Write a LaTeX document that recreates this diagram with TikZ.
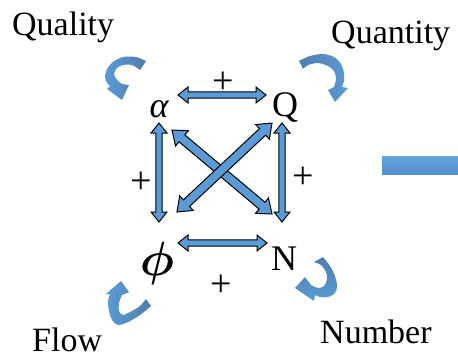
\documentclass[tikz,border=0pt]{standalone}
\usepackage{bm}
\usepackage{fontspec}
\setmainfont{Liberation Serif}
\usetikzlibrary{calc}
\definecolor{ablue}{HTML}{5B9BD5}
\definecolor{adark}{HTML}{4F7DAE}
\definecolor{rtop}{HTML}{62A2DC}
\definecolor{rbot}{HTML}{5590CC}
\tikzset{
  lbl/.style={font=\fontsize{34}{40}\selectfont, inner sep=0pt, anchor=base west},
  varnode/.style={font=\fontsize{36}{40}\selectfont, inner sep=0pt},
  plusnode/.style={font=\fontsize{38}{40}\selectfont, inner sep=0pt},
  barrow/.style={fill=ablue, draw=black, line width=1pt, line join=miter},
}
\newcommand\blockarrow[6][barrow]{%
  \path ($(#2)!#6!(#3)$) coordinate (ba1) ($(#3)!#6!(#2)$) coordinate (ba2);
  \filldraw[#1] (#2) -- ($(ba1)!#5!90:(#3)$) -- ($(ba1)!#4!90:(#3)$)
    -- ($(ba2)!#4!-90:(#2)$) -- ($(ba2)!#5!-90:(#2)$) -- (#3)
    -- ($(ba2)!#5!90:(#2)$) -- ($(ba2)!#4!90:(#2)$)
    -- ($(ba1)!#4!-90:(#3)$) -- ($(ba1)!#5!-90:(#3)$) -- cycle;}
\begin{document}
\begin{tikzpicture}[x=1pt,y=-1pt]
\useasboundingbox (0,0) rectangle (458,357);

% labels
\node[lbl] (quality) at (12,35) {Quality};
\node[lbl] (quantity) at (331,43) {Quantity};
\node[lbl, text depth=0pt] (flow) at (32,351) {Flow};
\node[lbl] (number) at (320,343) {Number};

% variables
\node[varnode, anchor=base] (alpha) at (159,117) {\itshape α};
\node[varnode, anchor=base] (Q) at (285,116) {Q};
\node[inner sep=0pt] (phi) at (157,263) {\scalebox{4.8}{$\bm{\phi}$}};
\node[varnode, anchor=base] (N) at (284,270) {N};

% arrow end points
\coordinate (t1) at (178,95);  \coordinate (t2) at (266,95);
\coordinate (b1) at (178,243); \coordinate (b2) at (267,243);
\coordinate (l1) at (159,123); \coordinate (l2) at (159,222);
\coordinate (r1) at (282,123); \coordinate (r2) at (282,222);
\coordinate (d1) at (172,130); \coordinate (d2) at (272,214);
\coordinate (e1) at (177,212); \coordinate (e2) at (272,123);

% diagonals
\blockarrow{d1}{d2}{4.5pt}{10pt}{13pt}
\blockarrow{e1}{e2}{4.5pt}{10pt}{13pt}
% sides
\blockarrow{t1}{t2}{3.2pt}{8pt}{10pt}
\blockarrow{b1}{b2}{3.2pt}{8pt}{10pt}
\blockarrow{l1}{l2}{3.2pt}{8pt}{10pt}
\blockarrow{r1}{r2}{3.2pt}{8pt}{10pt}

% plus signs
\node[plusnode] (ptop) at (223,83) {+};
\node[plusnode] (pleft) at (141,183) {+};
\node[plusnode] (pright) at (303,178) {+};
\node[plusnode] (pbot) at (221,286) {+};

% curved arrows
\shade[left color=ablue, right color=adark]
  plot[smooth] coordinates {(146,61) (136,57) (123,57) (113,62) (107,69) (105,77) (107,83) (110,86)}
  -- (107,89) -- (122,100) -- (129,85)
  -- plot[smooth] coordinates {(122,84) (117,80) (114,74) (117,68) (123,65) (132,65) (140,70)} -- cycle;
\shade[left color=adark, right color=ablue]
  plot[smooth] coordinates {(299,61) (310,56) (323,54) (334,57) (341,64) (344,73) (344,81) (342,87)}
  -- (348,88) -- (335,102) -- (328,90)
  -- plot[smooth] coordinates {(334,87) (336,79) (334,71) (328,66) (318,63) (308,65) (303,69)} -- cycle;
\shade[left color=ablue, right color=adark]
  plot[smooth] coordinates {(151,306) (140,315) (128,322) (118,325) (112,320) (109,311) (108,301) (110,294)}
  -- (106,294) -- (121,281) -- (129,292)
  -- plot[smooth] coordinates {(122,295) (119,303) (119,311) (123,315) (132,311) (140,306) (146,299)} -- cycle;
\shade[top color=adark, bottom color=ablue]
  plot[smooth] coordinates {(323,257) (330,266) (335,276) (337,286) (335,293) (328,297) (320,297) (315,295)}
  -- (314,301) -- (295,288) -- (305,277)
  -- plot[smooth] coordinates {(311,285) (318,288) (324,286) (327,279) (326,272) (321,265) (314,262)} -- cycle;

% right bar
\shade[top color=rtop, bottom color=rbot] (382,156) rectangle (458,174);
\end{tikzpicture}
\end{document}
